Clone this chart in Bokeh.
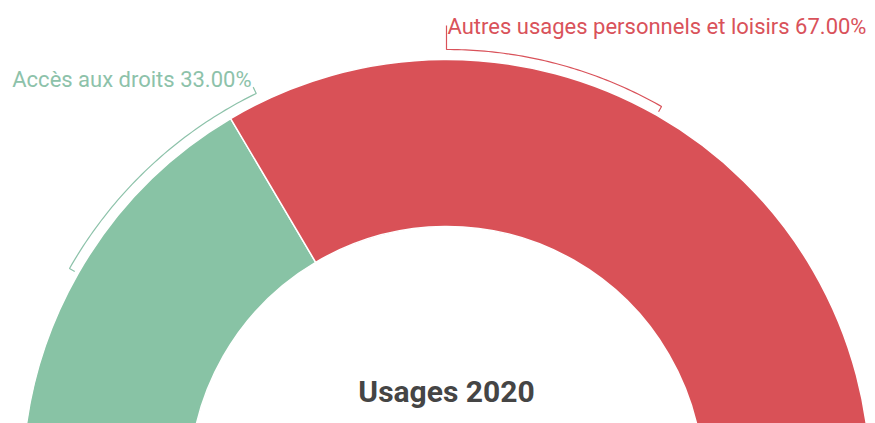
import numpy as np
from bokeh.plotting import figure
from bokeh.models import ColumnDataSource, Range1d
from bokeh.core.properties import value
from bokeh.embed import file_html
from bokeh.resources import INLINE

# ---- data ----
categories = ["Accès aux droits", "Autres usages personnels et loisirs"]
values = [33.0, 67.0]
slice_colors = ["#88c3a5", "#d95157"]
label_colors = ["#8dc2aa", "#d9525a"]
title_text = "Usages 2020"

# ---- layout (pixel-like data units) ----
W, H = 875, 423
CX, CY = 446, -60          # centre of the half donut (below the view)
R_OUT, R_IN = 424, 257
R_BR = 434                 # bracket radius
label_angle_deg = [116.0, 90.0]
label_pos = [(251, 344, "right"), (447, 397, "left")]
label_tick_out = [441, 458]

p = figure(width=W, height=H, output_backend="svg", toolbar_location=None,
           x_range=Range1d(0, W), y_range=Range1d(0, H),
           min_border=0, outline_line_color=None, match_aspect=False)
p.axis.visible = False
p.grid.visible = False
p.background_fill_color = "white"
p.border_fill_color = "white"

vals = np.array(values)
frac = vals / vals.sum()
cum = np.concatenate([[0], np.cumsum(frac)])
start_deg = 180 - cum[:-1] * 180   # clockwise from the left
end_deg = 180 - cum[1:] * 180
mid_deg = (start_deg + end_deg) / 2

src = ColumnDataSource(dict(
    x=[CX] * len(vals), y=[CY] * len(vals),
    start=np.radians(end_deg), end=np.radians(start_deg),
    color=slice_colors,
))
p.annular_wedge(x="x", y="y", inner_radius=R_IN, outer_radius=R_OUT,
                start_angle="start", end_angle="end", fill_color="color",
                line_color="white", line_width=1.5, source=src)

# brackets / connectors
for i in range(len(vals)):
    a0 = np.radians(label_angle_deg[i])
    a1 = np.radians(mid_deg[i])
    arc = np.linspace(a0, a1, 60)
    xs = [CX + label_tick_out[i] * np.cos(a0)] + list(CX + R_BR * np.cos(arc)) + [CX + (R_BR - 6) * np.cos(a1)]
    ys = [CY + label_tick_out[i] * np.sin(a0)] + list(CY + R_BR * np.sin(arc)) + [CY + (R_BR - 6) * np.sin(a1)]
    p.line(xs, ys, line_color=label_colors[i], line_width=1.2)

# labels
for i in range(len(vals)):
    lx, ly, al = label_pos[i]
    p.text(x=[lx], y=[ly], text=[f"{categories[i]} {values[i]:.2f}%"],
           text_font=value("Roboto"), text_font_size="22px",
           text_color=label_colors[i], text_align=al, text_baseline="alphabetic")

# centre title
p.text(x=[CX], y=[32], text=[title_text], text_font=value("Roboto"),
       text_font_size="30px", text_font_style="bold", text_color="#454545",
       text_align="center", text_baseline="alphabetic")

open("out.html", "w").write(file_html(p, INLINE))
